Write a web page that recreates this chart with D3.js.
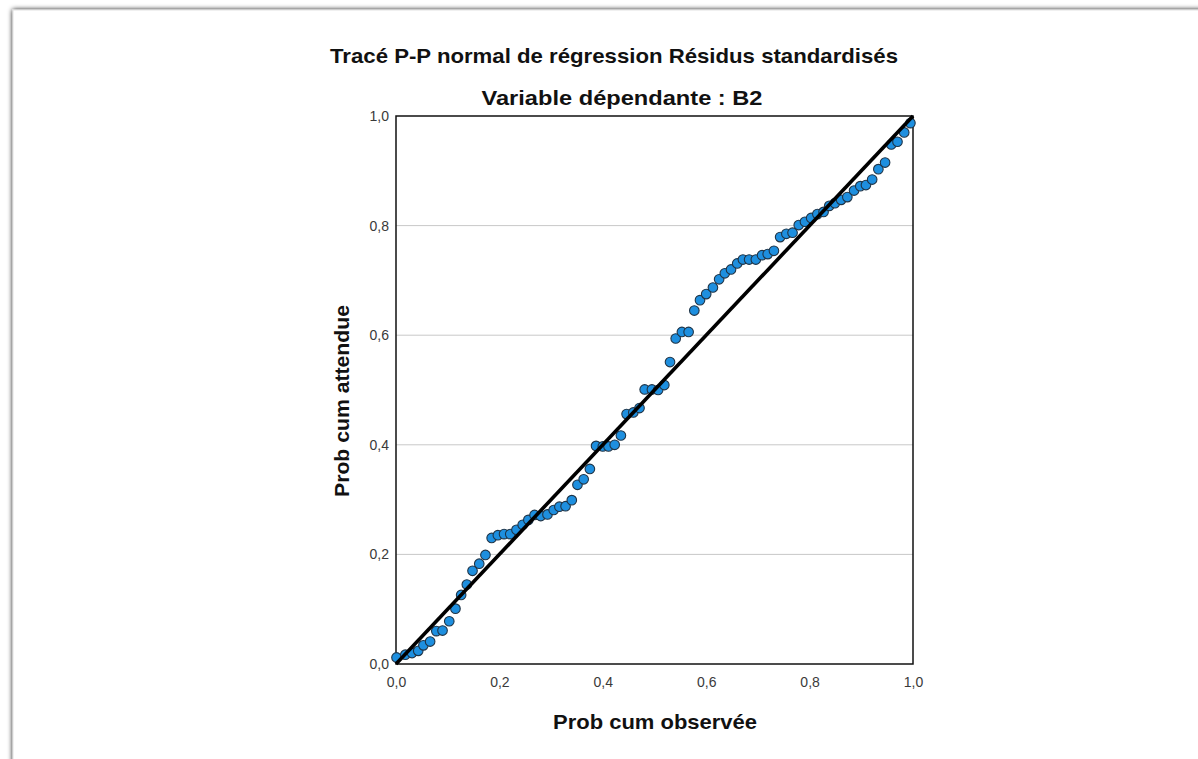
<!DOCTYPE html>
<html>
<head>
<meta charset="utf-8">
<script src="https://cdn.jsdelivr.net/npm/d3@7"></script>
<style>
  html, body { margin: 0; padding: 0; background: #fff; }
  svg { display: block; font-family: "Liberation Sans", Arial, sans-serif; }
</style>
</head>
<body>
<svg id="chart" width="1198" height="759"></svg>
<script>
// Observed cumulative probability (x) and expected cumulative probability (y)
var observed = [
  0.001, 0.018, 0.031, 0.043, 0.053, 0.066, 0.078, 0.090, 0.103, 0.115,
  0.126, 0.137, 0.148, 0.161, 0.173, 0.185, 0.197, 0.209, 0.221, 0.233,
  0.245, 0.256, 0.268, 0.280, 0.293, 0.305, 0.316, 0.328, 0.340, 0.351,
  0.363, 0.375, 0.387, 0.400, 0.411, 0.423, 0.435, 0.446, 0.459, 0.471,
  0.481, 0.495, 0.507, 0.519, 0.530, 0.541, 0.553, 0.566, 0.577, 0.588,
  0.600, 0.613, 0.625, 0.636, 0.648, 0.660, 0.671, 0.683, 0.696, 0.708,
  0.719, 0.731, 0.743, 0.755, 0.767, 0.779, 0.791, 0.803, 0.815, 0.827,
  0.838, 0.849, 0.861, 0.873, 0.886, 0.898, 0.909, 0.921, 0.933, 0.946,
  0.958, 0.970, 0.983, 0.995
];
var expected = [
  0.012, 0.017, 0.020, 0.024, 0.034, 0.041, 0.060, 0.061, 0.078, 0.101,
  0.126, 0.145, 0.170, 0.183, 0.199, 0.230, 0.235, 0.237, 0.237, 0.245,
  0.254, 0.263, 0.272, 0.270, 0.273, 0.281, 0.287, 0.288, 0.299, 0.327,
  0.337, 0.356, 0.398, 0.397, 0.397, 0.400, 0.417, 0.456, 0.459, 0.467,
  0.501, 0.501, 0.500, 0.509, 0.551, 0.594, 0.606, 0.606, 0.645, 0.664,
  0.675, 0.687, 0.702, 0.713, 0.720, 0.731, 0.738, 0.738, 0.738, 0.746,
  0.748, 0.754, 0.779, 0.785, 0.787, 0.801, 0.807, 0.814, 0.821, 0.825,
  0.836, 0.841, 0.847, 0.852, 0.864, 0.872, 0.874, 0.884, 0.903, 0.915,
  0.948, 0.953, 0.970, 0.987
];

var tickValues = [0, 0.2, 0.4, 0.6, 0.8, 1.0];
var tickLabels = ["0,0", "0,2", "0,4", "0,6", "0,8", "1,0"];
var gridValues = [0.2, 0.4, 0.6, 0.8];
var diagonal = [0, 1];

var titleText = "Tracé P-P normal de régression Résidus standardisés";
var subtitleText = "Variable dépendante : B2";
var xLabel = "Prob cum observée";
var yLabel = "Prob cum attendue";

var colorPoint = "#1e8fdf";
var colorPointStroke = "#1f3447";

var svg = d3.select("#chart");

// card frame with a soft shadow
var defs = svg.append("defs");
var shadow = defs.append("filter").attr("id", "shadow")
  .attr("x", "-5%").attr("y", "-5%").attr("width", "110%").attr("height", "110%");
shadow.append("feGaussianBlur").attr("in", "SourceAlpha").attr("stdDeviation", 2.5);
shadow.append("feOffset").attr("dx", 0).attr("dy", 0).attr("result", "b");
var merge = shadow.append("feMerge");
merge.append("feMergeNode").attr("in", "b");
merge.append("feMergeNode").attr("in", "SourceGraphic");

svg.append("rect")
  .attr("x", 13).attr("y", 10)
  .attr("width", 1300).attr("height", 900)
  .attr("fill", "#fff")
  .attr("stroke", "#e2e2e2")
  .style("filter", "url(#shadow)");

var plot = { left: 396, top: 116, right: 913, bottom: 664 };

var x = d3.scaleLinear().domain([0, 1]).range([plot.left, plot.right]);
var y = d3.scaleLinear().domain([0, 1]).range([plot.bottom, plot.top]);

// horizontal grid lines
svg.append("g")
  .selectAll("line")
  .data(gridValues)
  .join("line")
  .attr("x1", plot.left).attr("x2", plot.right)
  .attr("y1", function(d) { return y(d); })
  .attr("y2", function(d) { return y(d); })
  .attr("stroke", "#c8c8c8")
  .attr("stroke-width", 1);

// axes (labels only, the frame is drawn separately)
var fmt = function(d) { return tickLabels[tickValues.indexOf(d)]; };

var xAxis = svg.append("g")
  .attr("transform", "translate(0," + plot.bottom + ")")
  .call(d3.axisBottom(x).tickValues(tickValues).tickFormat(fmt).tickSize(0).tickPadding(13));
var yAxis = svg.append("g")
  .attr("transform", "translate(" + plot.left + ",0)")
  .call(d3.axisLeft(y).tickValues(tickValues).tickFormat(fmt).tickSize(0).tickPadding(7));

[xAxis, yAxis].forEach(function(a) {
  a.select(".domain").remove();
  a.selectAll("text")
    .attr("fill", "#3a3a3a")
    .style("font-size", "14px")
    .style("font-family", "'Liberation Sans', Arial, sans-serif");
});

// frame of the plot area
svg.append("rect")
  .attr("x", plot.left).attr("y", plot.top)
  .attr("width", plot.right - plot.left)
  .attr("height", plot.bottom - plot.top)
  .attr("fill", "none")
  .attr("stroke", "#111")
  .attr("stroke-width", 1.5);

// points
svg.append("g")
  .selectAll("circle")
  .data(observed)
  .join("circle")
  .attr("cx", function(d) { return x(d); })
  .attr("cy", function(d, i) { return y(expected[i]); })
  .attr("r", 4.8)
  .attr("fill", colorPoint)
  .attr("stroke", colorPointStroke)
  .attr("stroke-width", 1.1);

// reference line
svg.append("line")
  .attr("x1", x(diagonal[0])).attr("y1", y(diagonal[0]))
  .attr("x2", x(diagonal[1])).attr("y2", y(diagonal[1]))
  .attr("stroke", "#000")
  .attr("stroke-width", 3.6);

// titles
function label(txt, cx, cy, len, rotate) {
  var t = svg.append("text")
    .attr("text-anchor", "middle")
    .attr("fill", "#111")
    .style("font-size", "21px")
    .style("font-weight", "bold")
    .attr("textLength", len)
    .attr("lengthAdjust", "spacingAndGlyphs")
    .text(txt);
  if (rotate) {
    t.attr("transform", "translate(" + cx + "," + cy + ") rotate(-90)");
  } else {
    t.attr("x", cx).attr("y", cy);
  }
  return t;
}

label(titleText, 614, 63, 568);
label(subtitleText, 622, 105, 281);
label(xLabel, 655, 729, 204);
label(yLabel, 349, 401, 192, true);
</script>
</body>
</html>
